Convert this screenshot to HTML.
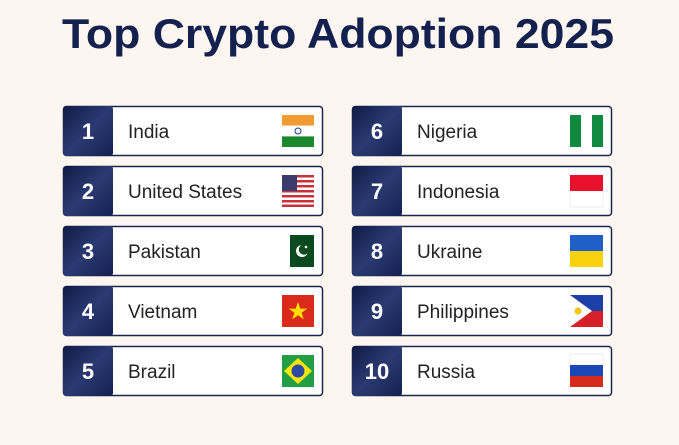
<!DOCTYPE html>
<html><head><meta charset="utf-8"><style>
html,body{margin:0;padding:0;background:#fdf5f0;}
svg{display:block}
text{font-family:"Liberation Sans",sans-serif}
</style></head><body>
<svg width="679" height="445" viewBox="0 0 679 445" xmlns="http://www.w3.org/2000/svg">
<defs>
<linearGradient id="nb" x1="0" y1="0" x2="1" y2="1">
<stop offset="0" stop-color="#0f1b45"/><stop offset="0.5" stop-color="#2a3a72"/><stop offset="1" stop-color="#142050"/>
</linearGradient>
</defs>
<rect width="679" height="445" fill="#fdf5f0"/>
<text x="62" y="48" font-size="42" font-weight="bold" fill="#13214f" textLength="552" lengthAdjust="spacingAndGlyphs">Top Crypto Adoption 2025</text>

<g id="cards" font-size="19" fill="#222">
<!-- left column -->
<g transform="translate(63,106)">
<rect x="0.5" y="0.5" width="259" height="49" rx="3" fill="#fff" stroke="#1a2550" stroke-width="1.5"/>
<rect x="0" y="0" width="50" height="50" rx="3" fill="url(#nb)"/>
<text x="25" y="33" font-size="22" font-weight="bold" fill="#fff" text-anchor="middle">1</text>
<text x="65" y="32" fill="#222">India</text>
<rect x="219" y="9" width="32" height="10.7" fill="#f39b33"/><rect x="219" y="19.7" width="32" height="10.7" fill="#fff"/><rect x="219" y="30.4" width="32" height="10.6" fill="#1b8a2e"/><circle cx="235" cy="25" r="3" fill="none" stroke="#1a3a8a" stroke-width="1"/>
</g>
<g transform="translate(63,166)">
<rect x="0.5" y="0.5" width="259" height="49" rx="3" fill="#fff" stroke="#1a2550" stroke-width="1.5"/>
<rect x="0" y="0" width="50" height="50" rx="3" fill="url(#nb)"/>
<text x="25" y="33" font-size="22" font-weight="bold" fill="#fff" text-anchor="middle">2</text>
<text x="65" y="32" fill="#222">United States</text>
<g>
<rect x="219" y="9" width="32" height="32" fill="#fff"/>
<rect x="219" y="9" width="32" height="2.5" fill="#c8303a"/><rect x="219" y="14" width="32" height="2.5" fill="#c8303a"/><rect x="219" y="19" width="32" height="2.5" fill="#c8303a"/><rect x="219" y="24" width="32" height="2.5" fill="#c8303a"/><rect x="219" y="29" width="32" height="2.5" fill="#c8303a"/><rect x="219" y="34" width="32" height="2.5" fill="#c8303a"/><rect x="219" y="38.5" width="32" height="2.5" fill="#c8303a"/>
<rect x="219" y="9" width="15" height="16" fill="#3c3b6e"/>
</g>
</g>
<g transform="translate(63,226)">
<rect x="0.5" y="0.5" width="259" height="49" rx="3" fill="#fff" stroke="#1a2550" stroke-width="1.5"/>
<rect x="0" y="0" width="50" height="50" rx="3" fill="url(#nb)"/>
<text x="25" y="33" font-size="22" font-weight="bold" fill="#fff" text-anchor="middle">3</text>
<text x="65" y="32" fill="#222">Pakistan</text>
<rect x="219" y="9" width="32" height="32" fill="#fff"/><rect x="227" y="9" width="24" height="32" fill="#0b4a1f"/>
<circle cx="239" cy="25" r="6" fill="#fff"/><circle cx="241" cy="23.5" r="5.2" fill="#0b4a1f"/><circle cx="243" cy="21" r="1.3" fill="#fff"/>
</g>
<g transform="translate(63,286)">
<rect x="0.5" y="0.5" width="259" height="49" rx="3" fill="#fff" stroke="#1a2550" stroke-width="1.5"/>
<rect x="0" y="0" width="50" height="50" rx="3" fill="url(#nb)"/>
<text x="25" y="33" font-size="22" font-weight="bold" fill="#fff" text-anchor="middle">4</text>
<text x="65" y="32" fill="#222">Vietnam</text>
<rect x="219" y="9" width="32" height="32" fill="#da2a1c"/>
<polygon points="235,16 237.3,22.6 244.3,22.6 238.6,26.8 240.8,33.4 235,29.3 229.2,33.4 231.4,26.8 225.7,22.6 232.7,22.6" fill="#ffdd00"/>
</g>
<g transform="translate(63,346)">
<rect x="0.5" y="0.5" width="259" height="49" rx="3" fill="#fff" stroke="#1a2550" stroke-width="1.5"/>
<rect x="0" y="0" width="50" height="50" rx="3" fill="url(#nb)"/>
<text x="25" y="33" font-size="22" font-weight="bold" fill="#fff" text-anchor="middle">5</text>
<text x="65" y="32" fill="#222">Brazil</text>
<rect x="219" y="9" width="32" height="32" fill="#229e45"/>
<polygon points="235,12 249,25 235,38 221,25" fill="#f8e509"/>
<circle cx="235" cy="25" r="6.5" fill="#2b49a3"/>
</g>

<!-- right column -->
<g transform="translate(352,106)">
<rect x="0.5" y="0.5" width="259" height="49" rx="3" fill="#fff" stroke="#1a2550" stroke-width="1.5"/>
<rect x="0" y="0" width="50" height="50" rx="3" fill="url(#nb)"/>
<text x="25" y="33" font-size="22" font-weight="bold" fill="#fff" text-anchor="middle">6</text>
<text x="65" y="32" fill="#222">Nigeria</text>
<rect x="218" y="9" width="33" height="32" fill="#fff"/><rect x="218" y="9" width="11" height="32" fill="#0f8a3e"/><rect x="240" y="9" width="11" height="32" fill="#0f8a3e"/>
</g>
<g transform="translate(352,166)">
<rect x="0.5" y="0.5" width="259" height="49" rx="3" fill="#fff" stroke="#1a2550" stroke-width="1.5"/>
<rect x="0" y="0" width="50" height="50" rx="3" fill="url(#nb)"/>
<text x="25" y="33" font-size="22" font-weight="bold" fill="#fff" text-anchor="middle">7</text>
<text x="65" y="32" fill="#222">Indonesia</text>
<rect x="218" y="9" width="33" height="32" fill="#fff" stroke="#ddd" stroke-width="0.5"/><rect x="218" y="9" width="33" height="16" fill="#e8112d"/>
</g>
<g transform="translate(352,226)">
<rect x="0.5" y="0.5" width="259" height="49" rx="3" fill="#fff" stroke="#1a2550" stroke-width="1.5"/>
<rect x="0" y="0" width="50" height="50" rx="3" fill="url(#nb)"/>
<text x="25" y="33" font-size="22" font-weight="bold" fill="#fff" text-anchor="middle">8</text>
<text x="65" y="32" fill="#222">Ukraine</text>
<rect x="218" y="9" width="33" height="16" fill="#1f5fc7"/><rect x="218" y="25" width="33" height="16" fill="#f8d20e"/>
</g>
<g transform="translate(352,286)">
<rect x="0.5" y="0.5" width="259" height="49" rx="3" fill="#fff" stroke="#1a2550" stroke-width="1.5"/>
<rect x="0" y="0" width="50" height="50" rx="3" fill="url(#nb)"/>
<text x="25" y="33" font-size="22" font-weight="bold" fill="#fff" text-anchor="middle">9</text>
<text x="65" y="32" fill="#222">Philippines</text>
<rect x="218" y="9" width="33" height="16" fill="#1d3fa8"/><rect x="218" y="25" width="33" height="16" fill="#d71f2a"/>
<polygon points="218,9 240,25 218,41" fill="#fff"/>
<circle cx="226" cy="25" r="3.5" fill="#f5c518"/>
</g>
<g transform="translate(352,346)">
<rect x="0.5" y="0.5" width="259" height="49" rx="3" fill="#fff" stroke="#1a2550" stroke-width="1.5"/>
<rect x="0" y="0" width="50" height="50" rx="3" fill="url(#nb)"/>
<text x="25" y="33" font-size="22" font-weight="bold" fill="#fff" text-anchor="middle">10</text>
<text x="65" y="32" fill="#222">Russia</text>
<rect x="218" y="8" width="33" height="11" fill="#fff" stroke="#ddd" stroke-width="0.5"/><rect x="218" y="19" width="33" height="11" fill="#1c47b8"/><rect x="218" y="30" width="33" height="11" fill="#d52b1e"/>
</g>
</g>
</svg>
</body></html>
